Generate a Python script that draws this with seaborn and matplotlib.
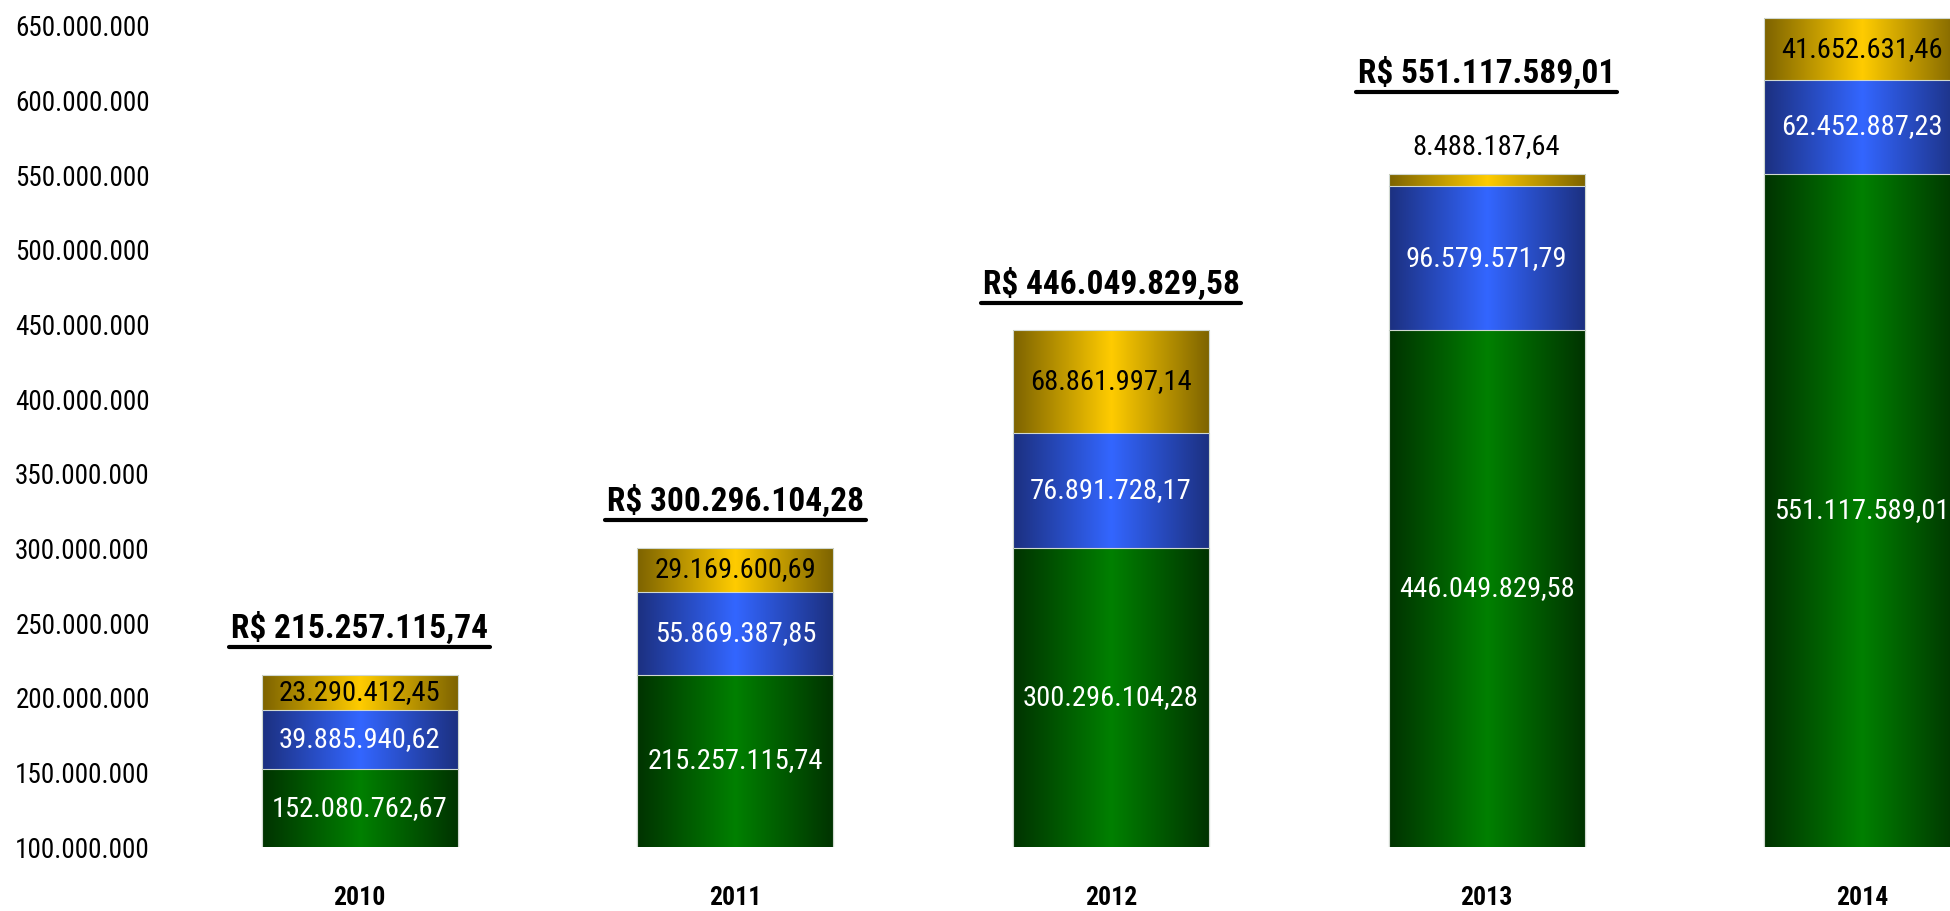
import numpy as np
import pandas as pd
import matplotlib
matplotlib.use("Agg")
import matplotlib.pyplot as plt
import seaborn as sns
from matplotlib.colors import LinearSegmentedColormap
from matplotlib import font_manager
from matplotlib.ticker import FuncFormatter, FixedLocator

# ---------------- data ----------------
years = ["2010", "2011", "2012", "2013", "2014"]
saldo_anterior = [152080762.67, 215257115.74, 300296104.28, 446049829.58, 551117589.01]
serie_azul = [39885940.62, 55869387.85, 76891728.17, 96579571.79, 62452887.23]
serie_amarela = [23290412.45, 29169600.69, 68861997.14, 8488187.64, 41652631.46]
totais = [215257115.74, 300296104.28, 446049829.58, 551117589.01, 655223107.70]
y_ticks = [100e6, 150e6, 200e6, 250e6, 300e6, 350e6, 400e6, 450e6, 500e6, 550e6, 600e6, 650e6]

# ---------------- style ----------------
sns.set_theme(style="white")
names = {f.name for f in font_manager.fontManager.ttflist}
base_font = next((f for f in ["Liberation Sans Narrow", "Roboto Condensed", "PT Sans Narrow",
                              "Liberation Sans"] if f in names), "DejaVu Sans")
plt.rcParams["font.family"] = [base_font, "DejaVu Sans"]


def fmt_br(v, dec=2):
    s = f"{v:,.{dec}f}"
    return s.replace(",", "X").replace(".", ",").replace("X", ".")


W, H, DPI = 1950, 911, 100
fig = plt.figure(figsize=(W / DPI, H / DPI), dpi=DPI)
ax = fig.add_axes([172 / W, 64 / H, 1878 / W, (907.4 - 64) / H])

df = pd.DataFrame({
    "ano": years,
    "verde": saldo_anterior,
    "azul": serie_azul,
    "amarelo": serie_amarela,
    "total": totais,
})
df["cum_azul"] = df["verde"] + df["azul"]
df["cum_total"] = df["cum_azul"] + df["amarelo"]

YMIN, YMAX = 100e6, 665e6
layers = [
    ("cum_total", "#ffcc00", "#7d6300", 1),
    ("cum_azul", "#3366ff", "#1c3080", 2),
    ("verde", "#008000", "#003300", 3),
]
grad = np.linspace(0, 1, 256).reshape(1, -1)
bar_w = 0.522
for col, bright, dark, z in layers:
    n_before = len(ax.patches)
    sns.barplot(data=df, x="ano", y=col, color=bright, width=bar_w, ax=ax,
                saturation=1, edgecolor="#d0d8d0", linewidth=0.8)
    cmap = LinearSegmentedColormap.from_list("g" + col, [dark, bright, dark])
    for p in ax.patches[n_before:]:
        p.set_zorder(z + 0.5)
        p.set_facecolor("none")
        x0 = p.get_x()
        x1 = x0 + p.get_width()
        y0 = max(p.get_y(), YMIN)
        y1 = p.get_y() + p.get_height()
        im = ax.imshow(grad, cmap=cmap, aspect="auto", extent=[x0, x1, y0, y1],
                       zorder=z, interpolation="bilinear")
        im.set_clip_path(p)

ax.set_xlim(-0.5, 4.5)
ax.set_ylim(YMIN, YMAX)
ax.yaxis.set_major_locator(FixedLocator(y_ticks))
ax.yaxis.set_major_formatter(FuncFormatter(lambda v, _: fmt_br(v, 0)))
for s in ax.spines.values():
    s.set_visible(False)
ax.set_xlabel("")
ax.set_ylabel("")
ax.tick_params(axis="y", length=0, pad=16, labelsize=19.5, labelcolor="black")
ax.tick_params(axis="x", length=0, pad=28, labelsize=18.5, labelcolor="black")
for t in ax.get_xticklabels():
    t.set_fontweight("bold")

# segment labels
SEG_FS = 20.5
titles = []
for i, row in df.iterrows():
    bottoms = [0, row["verde"], row["cum_azul"]]
    vals = [row["verde"], row["azul"], row["amarelo"]]
    colors = ["white", "white", "black"]
    extra = 0
    for b, v, c in zip(bottoms, vals, colors):
        if v < 15e6:
            ax.text(i, row["cum_total"] + 18e6, fmt_br(v), ha="center", va="center",
                    fontsize=SEG_FS, color="black", zorder=6)
            extra = 36e6
        else:
            lo = max(b, YMIN)
            ymid = lo + (b + v - lo) / 2
            ax.text(i, ymid, fmt_br(v), ha="center", va="center",
                    fontsize=SEG_FS, color=c, zorder=6)
    ty = row["cum_total"] + 31e6 + extra
    if ty < YMAX:
        t = ax.text(i, ty, "R$ " + fmt_br(row["total"]), ha="center", va="center",
                    fontsize=24, fontweight="bold", color="black", zorder=6)
        titles.append(t)

# underline the total labels
fig.canvas.draw()
r = fig.canvas.get_renderer()
for t in titles:
    bb = t.get_window_extent(renderer=r)
    yline = bb.y0 - 2
    fig.add_artist(plt.Line2D([bb.x0 - 2, bb.x1 + 2], [yline, yline],
                              transform=None, color="black", linewidth=3))

fig.savefig("out.png", dpi=DPI, facecolor="white")
